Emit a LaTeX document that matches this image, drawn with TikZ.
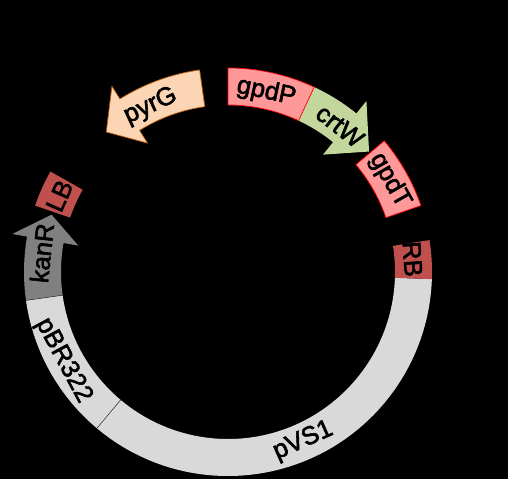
\documentclass[tikz,border=0pt]{standalone}
\usepackage{fontspec}
\setmainfont{Liberation Sans}
\newfontfamily\labfont[FakeBold=2.2]{Liberation Sans}
\definecolor{lgrey}{HTML}{D9D9D9}
\definecolor{dgrey}{HTML}{808080}
\definecolor{peach}{HTML}{FCD5B5}
\definecolor{peachline}{HTML}{C0620A}
\definecolor{pinkf}{HTML}{FF9999}
\definecolor{greenf}{HTML}{C3D69B}
\definecolor{brick}{HTML}{C0504D}
\begin{document}
\begin{tikzpicture}[x=1pt,y=1pt,
  lab/.style={font=\labfont\fontsize{25.5}{25.5}\selectfont, text=black, inner sep=0pt},
  divider/.style={draw=black!75, line width=0.6pt}]
\useasboundingbox (-228,-207) rectangle (280,272);
\fill[black] (-228,-207) rectangle (280,272);
% backbone segments
\fill[lgrey] (-130:204) arc[start angle=-130,end angle=-2,radius=204] -- (-2:167) arc[start angle=-2,end angle=-130,radius=167] -- cycle;
\fill[lgrey] (188:204) arc[start angle=188,end angle=230,radius=204] -- (230:167) arc[start angle=230,end angle=188,radius=167] -- cycle;
% kanR arrow
\fill[dgrey] (188:204) arc[start angle=188,end angle=170,radius=204] -- (170:219) -- (162:185.5) -- (170:152) -- (170:167) arc[start angle=170,end angle=188,radius=167] -- cycle;
\draw[divider] (230:167) -- (230:204);
\draw[divider] (188:167) -- (188:204);
% LB, RB
\fill[brick] (150.5:204) arc[start angle=150.5,end angle=161,radius=204] -- (161:167) arc[start angle=161,end angle=150.5,radius=167] -- cycle;
\fill[brick] (-2:204) arc[start angle=-2,end angle=9,radius=204] -- (9:167) arc[start angle=9,end angle=-2,radius=167] -- cycle;
% pyrG arrow
\filldraw[fill=peach, draw=peachline, line width=0.7pt, line join=miter] (98:204) arc[start angle=98,end angle=122,radius=204] -- (122:219) -- (131:185.5) -- (122:152) -- (122:167) arc[start angle=122,end angle=98,radius=167] -- cycle;
% crtW arrow
\fill[greenf] (65:204) arc[start angle=65,end angle=51,radius=204] -- (51:220) -- (40.5:185.5) -- (51:151) -- (51:167) arc[start angle=51,end angle=65,radius=167] -- cycle;
% gpdP, gpdT
\filldraw[fill=pinkf, draw=red, line width=0.7pt] (65:204) arc[start angle=65,end angle=90,radius=204] -- (90:167) arc[start angle=90,end angle=65,radius=167] -- cycle;
\filldraw[fill=pinkf, draw=red, line width=0.7pt] (19:204) arc[start angle=19,end angle=40,radius=204] -- (40:167) arc[start angle=40,end angle=19,radius=167] -- cycle;
% labels
\node[lab, rotate=25] (pyrGl) at (115:183) {pyrG};
\node[lab, rotate=-12] (gpdPl) at (78:184) {gpdP};
\node[lab, rotate=-38] (crtWl) at (52.5:184) {crtW};
\node[lab, rotate=-60.5] (gpdTl) at (29.5:186) {gpdT};
\node[lab, rotate=-86] (RBl) at (4:185) {RB};
\node[lab, rotate=66] (LBl) at (155.7:185) {LB};
\node[lab, rotate=84] (kanRl) at (174.2:187) {kanR};
\node[lab, rotate=-61.7] (pBRl) at (208.3:187) {pBR322};
\node[lab, rotate=24] (pVSl) at (-66:185) {pVS1};
\end{tikzpicture}
\end{document}
